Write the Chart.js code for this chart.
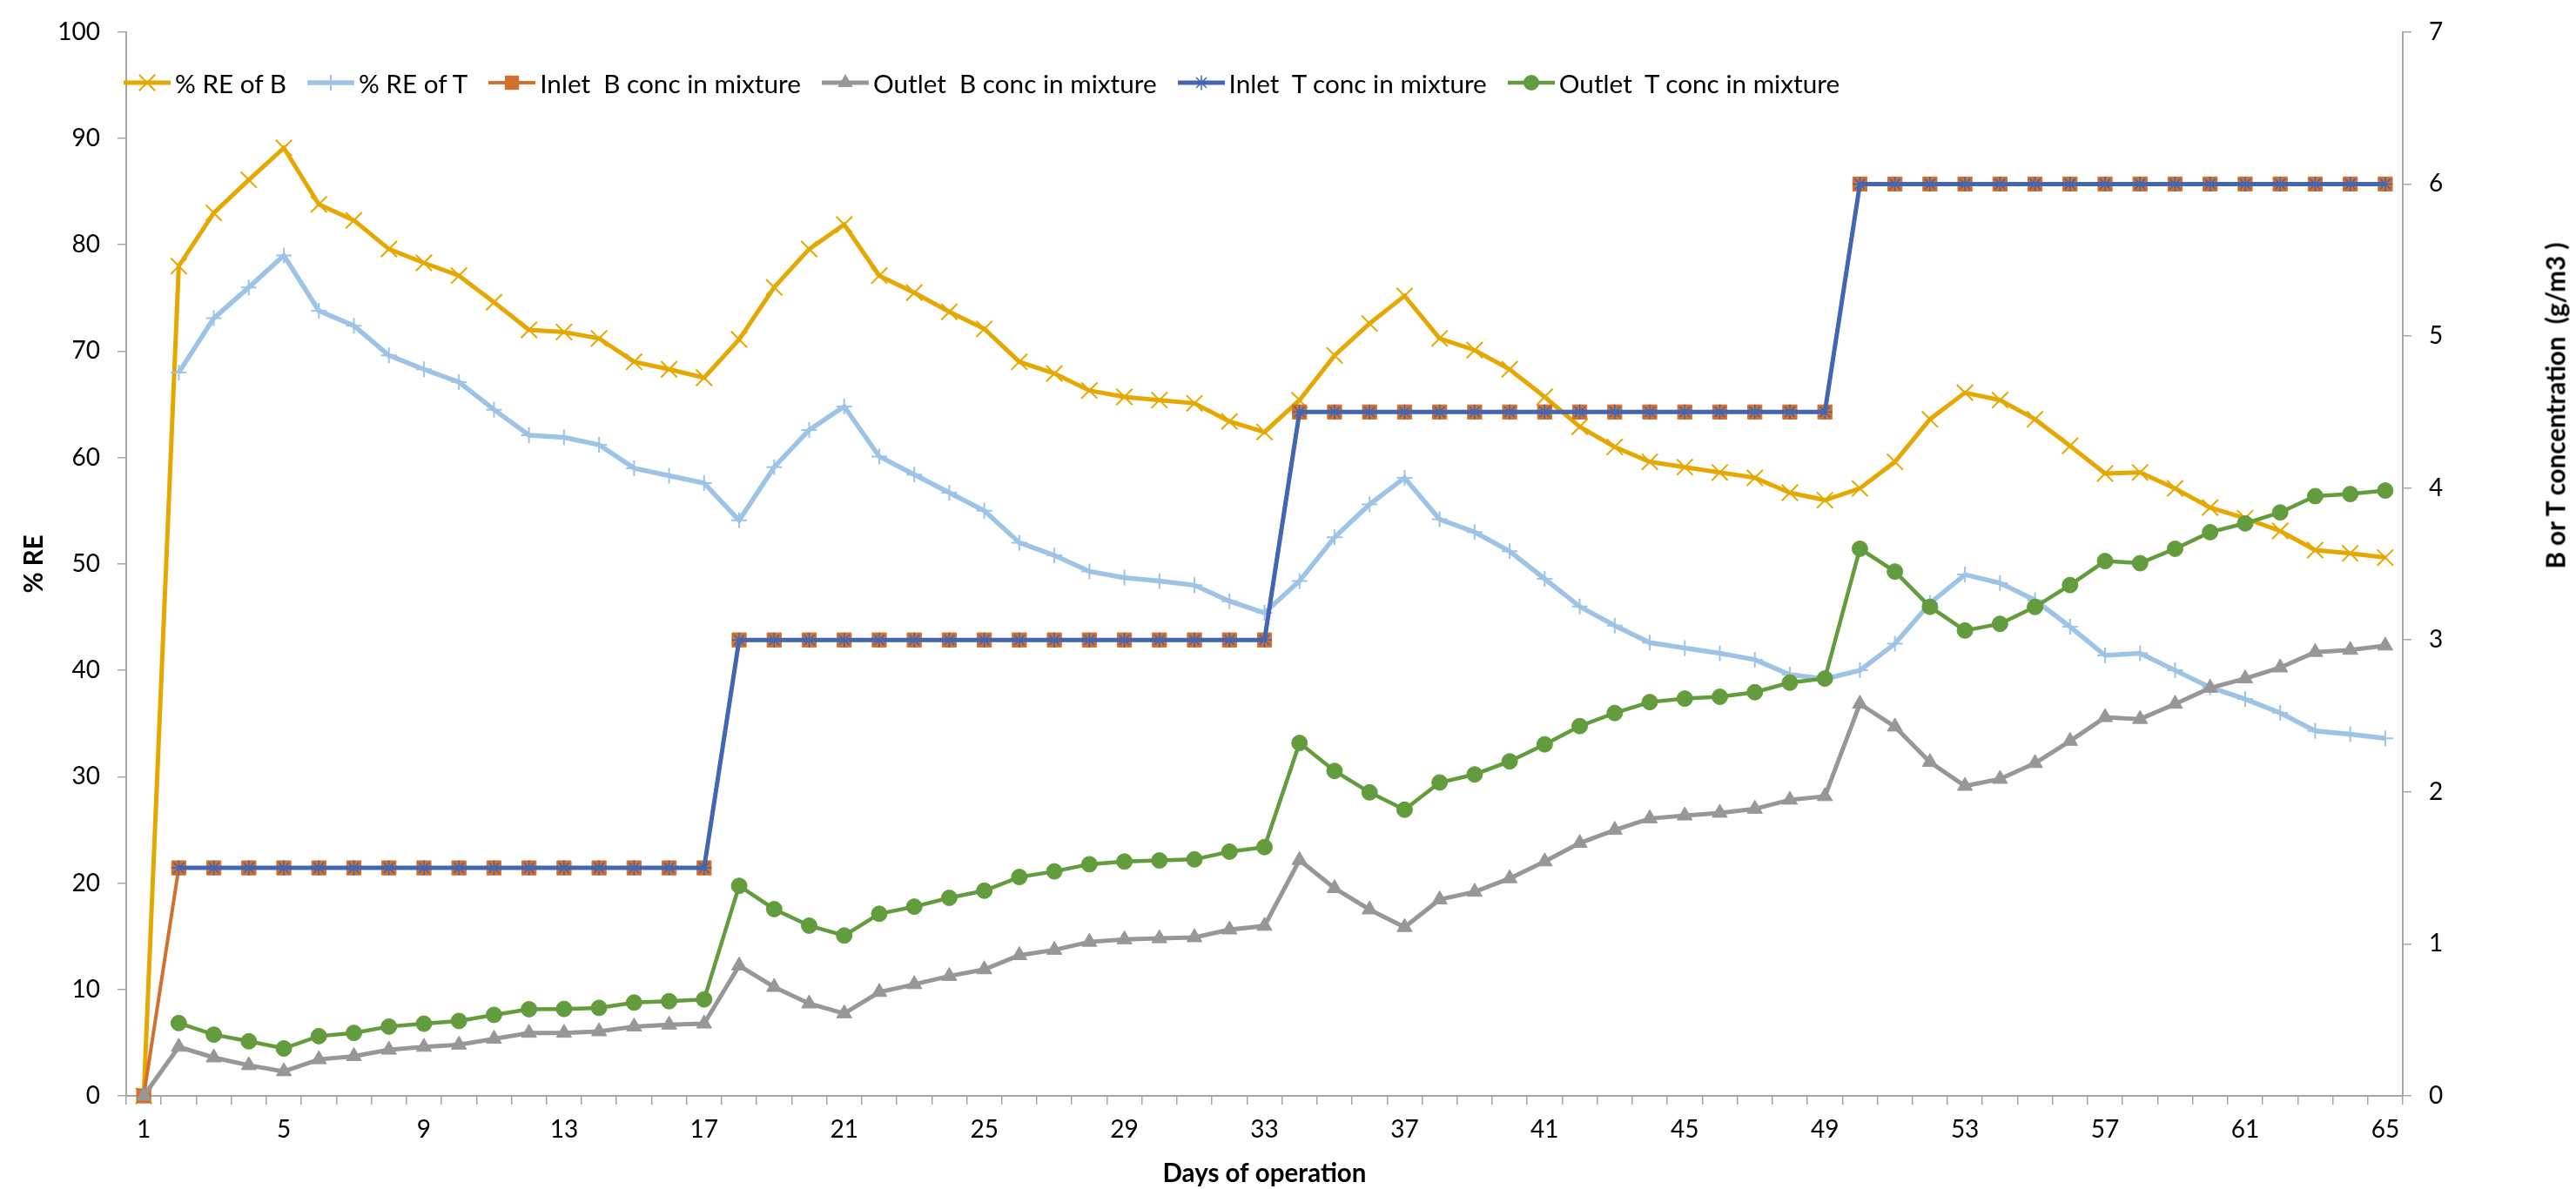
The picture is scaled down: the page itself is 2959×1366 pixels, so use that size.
<!DOCTYPE html>
<html>
<head>
<meta charset="utf-8">
<title>% RE and B / T concentration vs days of operation</title>
<script src="https://cdn.jsdelivr.net/npm/chart.js@4.4.1/dist/chart.umd.min.js"></script>
<style>
    html, body { margin: 0; padding: 0; background: #fff; }
    #wrap { position: relative; width: 2959px; height: 1366px; }
    #chart { display: block; width: 2959px; height: 1366px; }
    #legend {
        position: absolute; left: 142px; top: 77px;
        display: flex; align-items: center;
        font-family: Lato, sans-serif; font-size: 29.7px; color: #000;
        white-space: pre;
    }
    #legend .item { display: flex; align-items: center; margin-right: 24px; }
    #legend svg { margin-right: 5px; }
    #rightTitle {
        position: absolute; left: 2935px; top: 466px;
        transform: translate(-50%, -50%) rotate(-90deg);
        font: bold 29.5px Lato, sans-serif; color: #000; white-space: pre;
    }
</style>
</head>
<body>
<div id="wrap">
    <canvas id="chart" width="2959" height="1366"></canvas>
    <div id="legend"></div>
    <div id="rightTitle">B or T concentration  (g/m3 )</div>
</div>
<script>
// categories
const days = [1, 2, 3, 4, 5, 6, 7, 8, 9, 10, 11, 12, 13, 14, 15, 16, 17, 18, 19, 20,
    21, 22, 23, 24, 25, 26, 27, 28, 29, 30, 31, 32, 33, 34, 35, 36, 37, 38, 39, 40,
    41, 42, 43, 44, 45, 46, 47, 48, 49, 50, 51, 52, 53, 54, 55, 56, 57, 58, 59, 60,
    61, 62, 63, 64, 65];

// removal efficiency, % (left axis)
const reB = [0, 78.0, 83.0, 86.1, 89.1, 83.8, 82.3, 79.6, 78.3, 77.1, 74.6, 72.0, 71.8, 71.2, 69.0, 68.3,
    67.5, 71.1, 76.0, 79.6, 81.9, 77.1, 75.5, 73.7, 72.1, 69.0, 67.9, 66.3, 65.7, 65.4, 65.1, 63.4,
    62.4, 65.4, 69.6, 72.6, 75.2, 71.2, 70.1, 68.3, 65.7, 62.9, 61.0, 59.6, 59.1, 58.6, 58.1, 56.7,
    56.0, 57.1, 59.6, 63.6, 66.1, 65.4, 63.6, 61.1, 58.5, 58.6, 57.1, 55.3, 54.3, 53.1, 51.3, 51.0, 50.6];
const reT = [null, 68.0, 73.1, 76.0, 79.0, 73.8, 72.4, 69.6, 68.3, 67.1, 64.5, 62.1, 61.9, 61.2, 59.0, 58.3,
    57.6, 54.1, 59.1, 62.6, 64.8, 60.1, 58.4, 56.7, 55.0, 52.0, 50.8, 49.3, 48.7, 48.4, 48.0, 46.5,
    45.4, 48.4, 52.5, 55.6, 58.1, 54.2, 53.0, 51.2, 48.6, 46.0, 44.2, 42.6, 42.1, 41.6, 41.0, 39.6,
    39.2, 40.0, 42.5, 46.3, 49.0, 48.2, 46.6, 44.1, 41.4, 41.6, 40.0, 38.4, 37.3, 36.0, 34.3, 34.0, 33.6];

// concentrations, g/m3 (right axis)
const inletB = [0, 1.5, 1.5, 1.5, 1.5, 1.5, 1.5, 1.5, 1.5, 1.5, 1.5, 1.5, 1.5, 1.5, 1.5, 1.5, 1.5,
    3, 3, 3, 3, 3, 3, 3, 3, 3, 3, 3, 3, 3, 3, 3, 3,
    4.5, 4.5, 4.5, 4.5, 4.5, 4.5, 4.5, 4.5, 4.5, 4.5, 4.5, 4.5, 4.5, 4.5, 4.5, 4.5,
    6, 6, 6, 6, 6, 6, 6, 6, 6, 6, 6, 6, 6, 6, 6, 6];
const outletB = [0, 0.322, 0.252, 0.201, 0.161, 0.240, 0.261, 0.303, 0.322, 0.336, 0.375, 0.414, 0.414,
    0.424, 0.456, 0.468, 0.475, 0.857, 0.716, 0.607, 0.542, 0.683, 0.734, 0.788, 0.832, 0.925, 0.960,
    1.013, 1.029, 1.036, 1.043, 1.094, 1.118, 1.551, 1.366, 1.226, 1.110, 1.292, 1.342, 1.431, 1.542,
    1.663, 1.749, 1.825, 1.844, 1.862, 1.888, 1.948, 1.971, 2.579, 2.429, 2.196, 2.039, 2.085, 2.189,
    2.335, 2.491, 2.479, 2.579, 2.684, 2.746, 2.818, 2.920, 2.934, 2.962];
const inletT = [null, 1.5, 1.5, 1.5, 1.5, 1.5, 1.5, 1.5, 1.5, 1.5, 1.5, 1.5, 1.5, 1.5, 1.5, 1.5, 1.5,
    3, 3, 3, 3, 3, 3, 3, 3, 3, 3, 3, 3, 3, 3, 3, 3,
    4.5, 4.5, 4.5, 4.5, 4.5, 4.5, 4.5, 4.5, 4.5, 4.5, 4.5, 4.5, 4.5, 4.5, 4.5, 4.5,
    6, 6, 6, 6, 6, 6, 6, 6, 6, 6, 6, 6, 6, 6, 6, 6];
const outletT = [null, 0.479, 0.403, 0.359, 0.312, 0.393, 0.414, 0.456, 0.475, 0.493, 0.533, 0.570, 0.572,
    0.579, 0.614, 0.623, 0.635, 1.382, 1.229, 1.120, 1.055, 1.198, 1.245, 1.303, 1.350, 1.440, 1.477,
    1.524, 1.542, 1.549, 1.556, 1.607, 1.637, 2.322, 2.138, 1.997, 1.883, 2.062, 2.115, 2.201, 2.313,
    2.433, 2.519, 2.591, 2.614, 2.626, 2.656, 2.719, 2.746, 3.600, 3.450, 3.218, 3.062, 3.106, 3.217,
    3.361, 3.519, 3.505, 3.600, 3.709, 3.767, 3.839, 3.946, 3.960, 3.983];

// y axis tick values
const reTicks = [0, 10, 20, 30, 40, 50, 60, 70, 80, 90, 100];
const concTicks = [0, 1, 2, 3, 4, 5, 6, 7];

const axisGray = '#A6A6A6';
const tickFont = { family: 'Lato', size: 28 };
const titleFont = { family: 'Lato', size: 29.5, weight: 'bold' };

function series(label, data, axis, color, style, radius, lineWidth, markerLine, filled) {
    return {
        label: label,
        data: data,
        yAxisID: axis,
        borderColor: color,
        backgroundColor: color,
        borderWidth: lineWidth,
        pointStyle: style,
        pointRadius: radius,
        pointHoverRadius: radius,
        pointBorderWidth: markerLine,
        pointBorderColor: color,
        pointBackgroundColor: filled ? color : 'transparent',
        tension: 0,
        spanGaps: false,
        clip: false
    };
}

const datasets = [
    series('% RE of B', reB, 'y', '#E5A800', 'crossRot', 13, 5, 2, false),
    series('% RE of T', reT, 'y', '#9DC3E6', 'cross', 9, 5.5, 2, false),
    series('Inlet  B conc in mixture', inletB, 'y1', '#D2702D', 'rect', 11.5, 4, 1, true),
    series('Outlet  B conc in mixture', outletB, 'y1', '#979797', 'triangle', 10, 5, 1, true),
    series('Inlet  T conc in mixture', inletT, 'y1', '#4266B2', 'star', 8.5, 5, 1.5, false),
    series('Outlet  T conc in mixture', outletT, 'y1', '#629C3D', 'circle', 9, 4.5, 1, true)
];
// later series are painted on top, like the original
datasets.forEach((ds, i) => { ds.order = datasets.length - i; });

const ctx = document.getElementById('chart');
const chart = new Chart(ctx, {
    type: 'line',
    data: { labels: days, datasets: datasets },
    options: {
        responsive: false,
        animation: false,
        devicePixelRatio: 1,
        layout: { padding: { top: 28, left: 0, right: 0, bottom: 0 } },
        plugins: {
            legend: { display: false },
            tooltip: { enabled: false }
        },
        scales: {
            x: {
                type: 'category',
                offset: true,
                grid: { display: true, drawOnChartArea: false, drawTicks: true, tickLength: 10, offset: true, color: axisGray, lineWidth: 1.5 },
                border: { display: true, color: axisGray, width: 2 },
                ticks: {
                    autoSkip: false, maxRotation: 0, minRotation: 0, padding: 12,
                    color: '#000', font: tickFont,
                    callback: function(value, index) {
                        return index % 4 === 0 ? this.getLabelForValue(value) : '';
                    }
                },
                title: { display: true, text: 'Days of operation', color: '#000', font: titleFont, padding: { top: 0, bottom: 0 } },
                afterFit: function(scale) { scale.height = 107; }
            },
            y: {
                position: 'left',
                min: reTicks[0],
                max: reTicks[reTicks.length - 1],
                afterBuildTicks: function(scale) { scale.ticks = reTicks.map(v => ({ value: v })); },
                grid: { drawOnChartArea: false, tickLength: 10, color: axisGray, lineWidth: 1.5 },
                border: { display: true, color: axisGray, width: 2 },
                ticks: { padding: 20, color: '#000', font: tickFont },
                title: { display: true, text: '% RE', color: '#000', font: titleFont, padding: { top: 22, bottom: 0 } },
                afterFit: function(scale) { scale.width = 145; }
            },
            y1: {
                position: 'right',
                min: concTicks[0],
                max: concTicks[concTicks.length - 1],
                afterBuildTicks: function(scale) { scale.ticks = concTicks.map(v => ({ value: v })); },
                grid: { drawOnChartArea: false, tickLength: 10, color: axisGray, lineWidth: 1.5 },
                border: { display: true, color: axisGray, width: 2 },
                ticks: { padding: 20, color: '#000', font: tickFont },
                afterFit: function(scale) { scale.width = 199; }
            }
        }
    }
});

// legend drawn over the plot area, Excel style
function markerSvg(ds) {
    const w = 54, h = 36, cx = 27, cy = 18;
    const c = ds.borderColor;
    const r = ds.pointRadius;
    let shape = '';
    switch (ds.pointStyle) {
        case 'crossRot': {
            const d = r * Math.SQRT1_2;
            shape = `<path d="M${cx - d} ${cy - d}L${cx + d} ${cy + d}M${cx - d} ${cy + d}L${cx + d} ${cy - d}" stroke="${c}" stroke-width="${ds.pointBorderWidth}"/>`;
            break;
        }
        case 'cross':
            shape = `<path d="M${cx - r} ${cy}L${cx + r} ${cy}M${cx} ${cy - r}L${cx} ${cy + r}" stroke="${c}" stroke-width="${ds.pointBorderWidth}"/>`;
            break;
        case 'star': {
            const d = r * Math.SQRT1_2;
            shape = `<path d="M${cx - r} ${cy}L${cx + r} ${cy}M${cx} ${cy - r}L${cx} ${cy + r}M${cx - d} ${cy - d}L${cx + d} ${cy + d}M${cx - d} ${cy + d}L${cx + d} ${cy - d}" stroke="${c}" stroke-width="${ds.pointBorderWidth}"/>`;
            break;
        }
        case 'rect': {
            const s = r * Math.SQRT1_2;
            shape = `<rect x="${cx - s}" y="${cy - s}" width="${2 * s}" height="${2 * s}" fill="${c}"/>`;
            break;
        }
        case 'triangle': {
            const pts = [0, 120, 240].map(a => {
                const t = a * Math.PI / 180;
                return `${cx + Math.sin(t) * r},${cy - Math.cos(t) * r}`;
            }).join(' ');
            shape = `<polygon points="${pts}" fill="${c}"/>`;
            break;
        }
        default:
            shape = `<circle cx="${cx}" cy="${cy}" r="${r}" fill="${c}"/>`;
    }
    return `<svg width="${w}" height="${h}"><line x1="0" y1="${cy}" x2="${w}" y2="${cy}" stroke="${c}" stroke-width="${ds.borderWidth}"/>${shape}</svg>`;
}

const legend = document.getElementById('legend');
chart.data.datasets.forEach(ds => {
    const item = document.createElement('span');
    item.className = 'item';
    item.innerHTML = markerSvg(ds) + `<span>${ds.label}</span>`;
    legend.appendChild(item);
});
</script>
</body>
</html>
